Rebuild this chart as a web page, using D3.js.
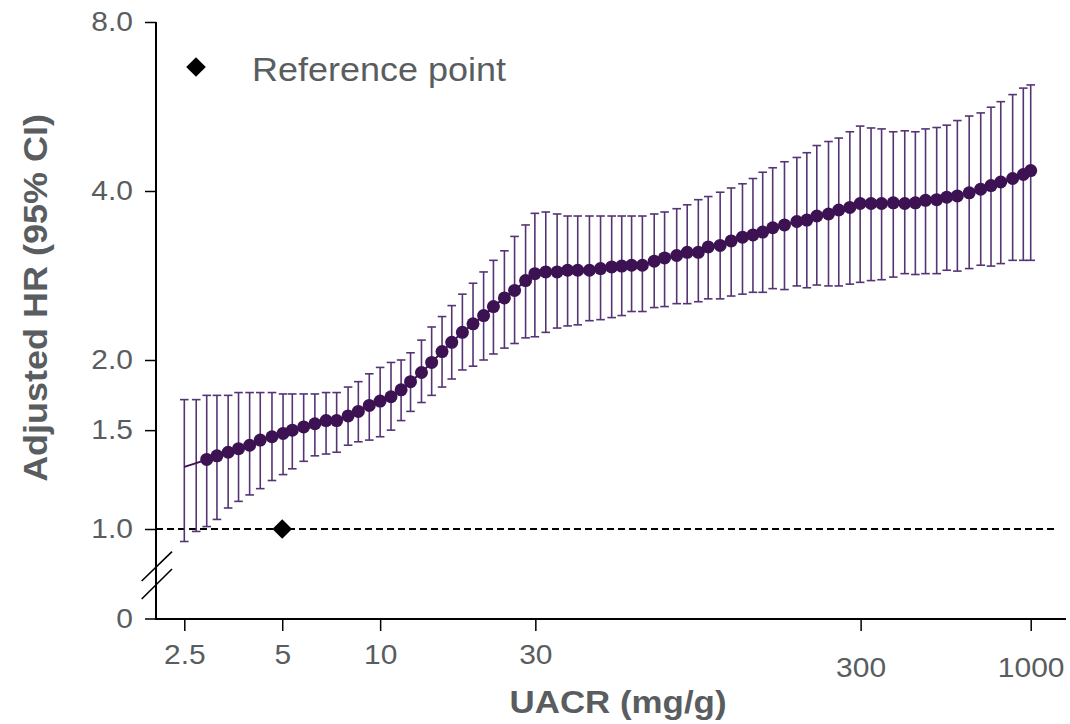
<!DOCTYPE html>
<html>
<head>
<meta charset="utf-8">
<script src="https://cdn.jsdelivr.net/npm/d3@7"></script>
<style>
  body { margin: 0; background: #fff; }
  svg { display: block; font-family: "Liberation Sans", Arial, sans-serif; }
</style>
</head>
<body>
<svg width="1070" height="724"></svg>
<script>
// UACR (mg/g) at each estimate
const uacr = [2.5, 2.72, 2.93, 3.15, 3.41, 3.67, 3.97, 4.28, 4.65, 5.03,
  5.37, 5.82, 6.30, 6.82, 7.35, 7.97, 8.57, 9.26, 10.0, 10.8,
  11.6, 12.4, 13.4, 14.4, 15.5, 16.6, 17.9, 19.3, 20.8, 22.3,
  24.1, 25.9, 28.0, 29.9, 32.3, 35.0, 37.7, 40.5, 44.0, 47.6,
  51.5, 55.3, 59.3, 64.0, 69.6, 74.9, 81.6, 87.9, 95.1, 102,
  111, 120, 130, 140, 150, 161, 175, 191, 205, 220,
  239, 257, 278, 299, 323, 348, 378, 410, 442, 475,
  514, 552, 595, 647, 702, 755, 809, 880, 949, 1000];
// adjusted hazard ratio
const hr = [1.29, 1.31, 1.33, 1.35, 1.37, 1.39, 1.41, 1.44, 1.46, 1.48,
  1.50, 1.52, 1.54, 1.56, 1.56, 1.59, 1.62, 1.66, 1.69, 1.72,
  1.77, 1.83, 1.90, 1.98, 2.07, 2.15, 2.24, 2.32, 2.40, 2.49,
  2.58, 2.66, 2.77, 2.85, 2.87, 2.87, 2.89, 2.89, 2.89, 2.91,
  2.93, 2.94, 2.95, 2.95, 3.00, 3.04, 3.07, 3.11, 3.11, 3.18,
  3.20, 3.26, 3.31, 3.34, 3.38, 3.44, 3.48, 3.53, 3.55, 3.61,
  3.64, 3.70, 3.74, 3.80, 3.80, 3.80, 3.81, 3.80, 3.81, 3.85,
  3.86, 3.90, 3.92, 3.97, 4.03, 4.09, 4.15, 4.21, 4.28, 4.35];
// 95% CI bounds
const ciLow = [0.95, 0.99, 1.01, 1.04, 1.09, 1.12, 1.15, 1.18, 1.22, 1.25,
  1.28, 1.32, 1.35, 1.36, 1.37, 1.41, 1.43, 1.44, 1.46, 1.50,
  1.56, 1.62, 1.68, 1.73, 1.79, 1.85, 1.92, 1.95, 2.00, 2.05,
  2.10, 2.14, 2.19, 2.20, 2.24, 2.28, 2.30, 2.31, 2.35, 2.36,
  2.38, 2.40, 2.44, 2.44, 2.48, 2.49, 2.52, 2.52, 2.54, 2.57,
  2.57, 2.60, 2.62, 2.64, 2.64, 2.68, 2.67, 2.71, 2.69, 2.72,
  2.71, 2.71, 2.73, 2.75, 2.77, 2.78, 2.81, 2.85, 2.84, 2.85,
  2.85, 2.89, 2.88, 2.91, 2.95, 2.94, 2.97, 3.01, 3.01, 3.01];
const ciHigh = [1.70, 1.70, 1.73, 1.73, 1.73, 1.75, 1.75, 1.75, 1.75, 1.74,
  1.74, 1.74, 1.74, 1.75, 1.75, 1.79, 1.83, 1.89, 1.94, 1.98,
  2.00, 2.06, 2.17, 2.29, 2.39, 2.50, 2.62, 2.74, 2.87, 3.01,
  3.13, 3.32, 3.48, 3.65, 3.67, 3.64, 3.61, 3.61, 3.61, 3.61,
  3.61, 3.61, 3.61, 3.61, 3.64, 3.67, 3.72, 3.78, 3.86, 3.91,
  3.98, 4.05, 4.12, 4.21, 4.32, 4.40, 4.51, 4.59, 4.68, 4.82,
  4.90, 4.97, 5.10, 5.22, 5.18, 5.16, 5.10, 5.12, 5.10, 5.16,
  5.19, 5.24, 5.34, 5.44, 5.51, 5.64, 5.77, 5.94, 6.10, 6.18];

const xTicks = [2.5, 5, 10, 30, 300, 1000];
const yTicks = [1.0, 1.5, 2.0, 4.0, 8.0];
const refPoint = {uacr: 5, hr: 1.0};

const svg = d3.select('svg');
const grey = '#595d60';
const dotColor = '#3c1253';
const barColor = '#553474';

const axisX = 156;
const axisY = 619;

const x = d3.scaleLog().domain([2.5, 1000]).range([184.3, 1030.7]);
const y = d3.scaleLog().base(2).domain([1, 8]).range([529, 22]);

const data = uacr.map((u, i) => ({u: u, hr: hr[i], lo: ciLow[i], hi: ciHigh[i]}));

// axes
const yAxis = svg.append('g')
    .attr('transform', `translate(${axisX},0)`)
    .call(d3.axisLeft(y).tickValues(yTicks).tickFormat(d3.format('.1f'))
        .tickSize(11).tickPadding(12));
yAxis.select('.domain').remove();

// the "0" tick below the break
const zeroTick = yAxis.append('g').attr('class', 'tick')
    .attr('transform', `translate(0,${axisY})`);
zeroTick.append('line').attr('x2', -11).attr('stroke', '#000');
zeroTick.append('text').attr('x', -23).attr('dy', '0.32em').attr('fill', grey).text('0');

const xAxis = svg.append('g')
    .attr('transform', `translate(0,${axisY})`)
    .call(d3.axisBottom(x).tickValues(xTicks).tickFormat(d => d)
        .tickSize(12).tickPadding(13));
xAxis.select('.domain').remove();
xAxis.selectAll('.tick text')
    .filter(d => d >= 300)
    .attr('y', 38);

svg.selectAll('.tick line').attr('stroke', '#000').attr('stroke-width', 1.5);
svg.selectAll('.tick text')
    .attr('fill', grey)
    .style('font-size', '27.5px')
    .style('font-family', '"Liberation Sans", Arial, sans-serif');

svg.append('line')
    .attr('x1', axisX).attr('x2', axisX)
    .attr('y1', y(8)).attr('y2', axisY + 1)
    .attr('stroke', '#000').attr('stroke-width', 2);
svg.append('line')
    .attr('x1', axisX - 1).attr('x2', 1066)
    .attr('y1', axisY).attr('y2', axisY)
    .attr('stroke', '#000').attr('stroke-width', 2);

// axis break marks
[[581, 551.7], [599, 569]].forEach(([a, b]) => {
    svg.append('line')
        .attr('x1', 141.7).attr('y1', a)
        .attr('x2', 172).attr('y2', b)
        .attr('stroke', '#000').attr('stroke-width', 1.6);
});

// reference line at HR = 1
svg.append('line')
    .attr('x1', axisX).attr('x2', 1056)
    .attr('y1', y(1)).attr('y2', y(1))
    .attr('stroke', '#000').attr('stroke-width', 2)
    .attr('stroke-dasharray', '7,4');

// error bars
const bars = svg.append('g').attr('stroke', barColor).attr('stroke-width', 1.6);
bars.selectAll('.bar')
    .data(data)
    .enter()
    .append('line')
    .attr('x1', d => x(d.u)).attr('x2', d => x(d.u))
    .attr('y1', d => y(d.lo)).attr('y2', d => y(d.hi));
const capW = 4.3;
['lo', 'hi'].forEach(k => {
    bars.selectAll('.cap-' + k)
        .data(data)
        .enter()
        .append('line')
        .attr('x1', d => x(d.u) - capW).attr('x2', d => x(d.u) + capW)
        .attr('y1', d => y(d[k])).attr('y2', d => y(d[k]));
});

// estimate line and dots
svg.append('path')
    .datum(data)
    .attr('fill', 'none')
    .attr('stroke', dotColor)
    .attr('stroke-width', 2)
    .attr('d', d3.line().x(d => x(d.u)).y(d => y(d.hr)));

svg.selectAll('.dot')
    .data(data.slice(2))
    .enter()
    .append('circle')
    .attr('cx', d => x(d.u))
    .attr('cy', d => y(d.hr))
    .attr('r', 6.5)
    .attr('fill', dotColor);

// reference point marker
const diamond = d3.symbol().type(d3.symbolDiamond2).size(245);
svg.append('path')
    .attr('d', diamond)
    .attr('transform', `translate(${x(refPoint.uacr)},${y(refPoint.hr)})`)
    .attr('fill', '#000');

// legend
svg.append('path')
    .attr('d', diamond)
    .attr('transform', 'translate(196,67)')
    .attr('fill', '#000');
svg.append('text')
    .attr('x', 252).attr('y', 81)
    .attr('fill', grey)
    .style('font-size', '33px')
    .text('Reference point');

// axis titles
svg.append('text')
    .attr('transform', 'translate(47,298) rotate(-90)')
    .attr('text-anchor', 'middle')
    .attr('fill', grey)
    .style('font-size', '33px')
    .style('font-weight', 'bold')
    .text('Adjusted HR (95% CI)');

svg.append('text')
    .attr('x', 618).attr('y', 713)
    .attr('text-anchor', 'middle')
    .attr('fill', grey)
    .style('font-size', '32px')
    .style('font-weight', 'bold')
    .text('UACR (mg/g)');

// the source font runs a little wider than Arial
svg.selectAll('text').each(function() {
    const len = this.getComputedTextLength();
    d3.select(this)
        .attr('textLength', len * 1.09)
        .attr('lengthAdjust', 'spacingAndGlyphs');
});
</script>
</body>
</html>
